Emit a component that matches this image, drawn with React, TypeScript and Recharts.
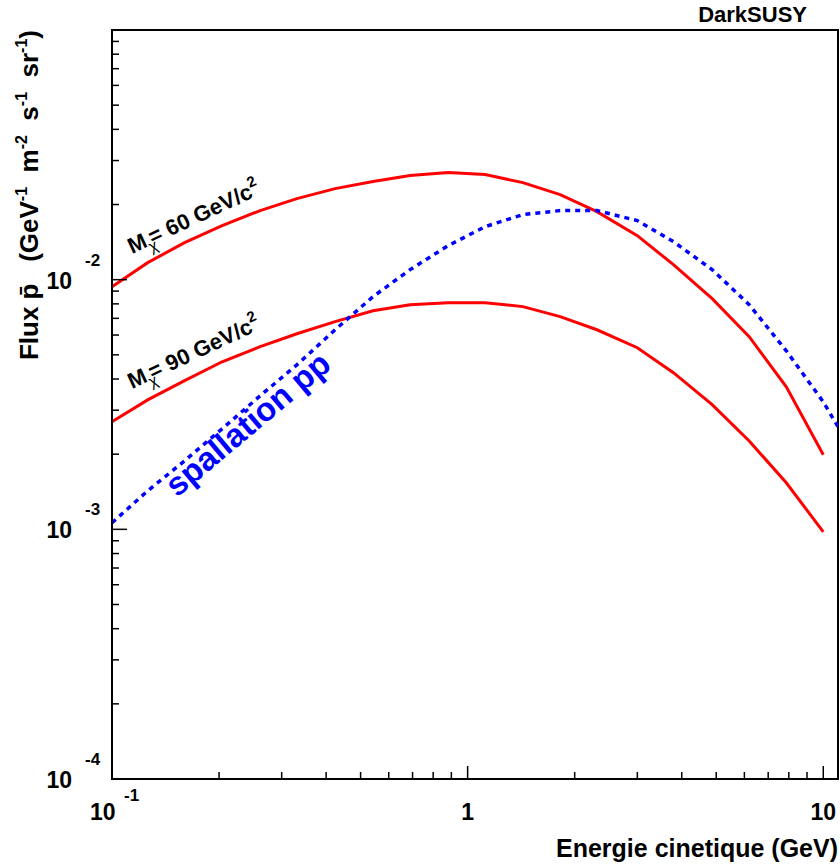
import React from 'react';
import { LineChart, Line, XAxis, YAxis, ReferenceArea } from 'recharts';

// kinetic energy grid (GeV)
const energies = [0.1, 0.126, 0.16, 0.204, 0.261, 0.331, 0.424, 0.542, 0.689, 0.882, 1.12, 1.43, 1.82, 2.31, 3.0, 3.79, 4.87, 6.19, 7.87, 10.0, 11.0];

// antiproton flux (GeV-1 m-2 s-1 sr-1)
const flux60 = [9.37e-3, 1.17e-2, 1.407e-2, 1.646e-2, 1.891e-2, 2.112e-2, 2.316e-2, 2.471e-2, 2.611e-2, 2.685e-2, 2.636e-2, 2.448e-2, 2.191e-2, 1.873e-2, 1.501e-2, 1.148e-2, 8.39e-3, 5.91e-3, 3.72e-3, 1.99e-3, null];
const flux90 = [2.7e-3, 3.3e-3, 3.94e-3, 4.69e-3, 5.39e-3, 6.07e-3, 6.79e-3, 7.51e-3, 7.94e-3, 8.09e-3, 8.09e-3, 7.8e-3, 7.11e-3, 6.3e-3, 5.34e-3, 4.24e-3, 3.16e-3, 2.26e-3, 1.536e-3, 9.77e-4, null];
const spallation = [1.062e-3, 1.426e-3, 1.881e-3, 2.527e-3, 3.427e-3, 4.56e-3, 6.3e-3, 8.55e-3, 1.097e-2, 1.369e-2, 1.631e-2, 1.822e-2, 1.891e-2, 1.891e-2, 1.724e-2, 1.42e-2, 1.097e-2, 7.94e-3, 5.19e-3, 3.24e-3, 2.575e-3];

const xTicks = [0.1, 0.2, 0.3, 0.4, 0.5, 0.6, 0.7, 0.8, 0.9, 1, 2, 3, 4, 5, 6, 7, 8, 9, 10];
const xMajor = [0.1, 1, 10];
const yTicks = [1e-4, 2e-4, 3e-4, 4e-4, 5e-4, 6e-4, 7e-4, 8e-4, 9e-4, 1e-3, 2e-3, 3e-3, 4e-3, 5e-3, 6e-3, 7e-3, 8e-3, 9e-3, 1e-2, 2e-2, 3e-2, 4e-2, 5e-2, 6e-2, 7e-2, 8e-2, 9e-2];
const yMajor = [1e-4, 1e-3, 1e-2];

const data = energies.map((e, i) => ({ e, m60: flux60[i], m90: flux90[i], spall: spallation[i] }));

const FONT = 'Liberation Sans, Arial, Helvetica, sans-serif';

const XTick = (props: any) => {
  const { x, y, payload } = props;
  const v = payload.value;
  const major = xMajor.includes(v);
  const exp = Math.round(Math.log10(v));
  return (
    <g>
      <line x1={x} x2={x} y1={y} y2={y - (major ? 13 : 7)} stroke="#000" strokeWidth={1.5} />
      {major && exp < 0 && (
        <g fontFamily={FONT} fontWeight="bold" fill="#000">
          <text x={x - 22} y={y + 41} fontSize={23}>10</text>
          <text x={x + 12} y={y + 22} fontSize={17}>{exp}</text>
        </g>
      )}
      {major && exp >= 0 && (
        <text x={x} y={y + 41} fontSize={23} fontFamily={FONT} fontWeight="bold" textAnchor="middle" fill="#000">
          {exp === 0 ? '1' : '10'}
        </text>
      )}
    </g>
  );
};

const YTick = (props: any) => {
  const { x, y, payload } = props;
  const v = payload.value;
  const major = yMajor.includes(v);
  const exp = Math.round(Math.log10(v));
  return (
    <g>
      <line x1={x} x2={x + (major ? 15 : 7)} y1={y} y2={y} stroke="#000" strokeWidth={1.5} />
      {major && (
        <g fontFamily={FONT} fontWeight="bold" fill="#000">
          <text x={x - 40} y={y + 9} fontSize={23} textAnchor="end">10</text>
          <text x={x - 27} y={y - 14} fontSize={17}>{exp}</text>
        </g>
      )}
    </g>
  );
};

export default function App() {
  return (
    <div style={{ position: 'absolute', left: 0, top: 0, width: 840, height: 867, background: '#fff' }}>
      <LineChart width={840} height={867} data={data} margin={{ top: 30, right: 2, bottom: 0, left: 0 }}>
        <XAxis
          dataKey="e"
          type="number"
          scale="log"
          domain={[0.1, 11]}
          ticks={xTicks}
          interval={0}
          tick={<XTick />}
          tickLine={false}
          tickSize={0}
          tickMargin={0}
          height={88}
          axisLine={{ stroke: '#000', strokeWidth: 2 }}
          allowDataOverflow
        />
        <YAxis
          type="number"
          scale="log"
          domain={[1e-4, 1e-1]}
          ticks={yTicks}
          interval={0}
          tick={<YTick />}
          tickLine={false}
          tickSize={0}
          tickMargin={0}
          width={112}
          axisLine={{ stroke: '#000', strokeWidth: 2 }}
          allowDataOverflow
        />
        <ReferenceArea x1={0.1} x2={11} y1={1e-4} y2={1e-1} fill="none" stroke="#000" strokeWidth={2} />
        <Line dataKey="m60" stroke="#ff0000" strokeWidth={3} dot={false} isAnimationActive={false} type="linear" />
        <Line dataKey="m90" stroke="#ff0000" strokeWidth={3} dot={false} isAnimationActive={false} type="linear" />
        <Line dataKey="spall" stroke="#0000ff" strokeWidth={3.5} strokeDasharray="5 5" dot={false} isAnimationActive={false} type="linear" />
      </LineChart>
      <svg width={840} height={867} style={{ position: 'absolute', left: 0, top: 0, pointerEvents: 'none' }} fontFamily={FONT} fontWeight="bold">
        <text x={807} y={22} fontSize={22} textAnchor="end" fill="#000">DarkSUSY</text>
        <text x={838} y={857} fontSize={25} textAnchor="end" fill="#000">Energie cinetique (GeV)</text>
        <text transform="translate(38,30) rotate(-90)" fontSize={26} textAnchor="end" fill="#000" xmlSpace="preserve">
          <tspan>{'Flux p\u0304\u00a0\u00a0\u00a0(GeV'}</tspan><tspan dy={-11} fontSize={16}>-1</tspan>
          <tspan dy={11}>{'\u00a0\u00a0m'}</tspan><tspan dy={-11} fontSize={16}>-2</tspan>
          <tspan dy={11}>{'\u00a0\u00a0s'}</tspan><tspan dy={-11} fontSize={16}>-1</tspan>
          <tspan dy={11}>{'\u00a0\u00a0sr'}</tspan><tspan dy={-11} fontSize={16}>-1</tspan>
          <tspan dy={11}>)</tspan>
        </text>
        <text transform="translate(132,254) rotate(-25)" fontSize={22} fill="#000">
          M<tspan dy={7} fontSize={16} fontWeight="normal">χ</tspan><tspan dy={-7} dx={-4}>= 60 GeV/c</tspan><tspan dy={-10} fontSize={15}>2</tspan>
        </text>
        <text transform="translate(132,389) rotate(-25)" fontSize={22} fill="#000">
          M<tspan dy={7} fontSize={16} fontWeight="normal">χ</tspan><tspan dy={-7} dx={-4}>= 90 GeV/c</tspan><tspan dy={-10} fontSize={15}>2</tspan>
        </text>
        <text transform="translate(177,498) rotate(-40)" fontSize={33} fill="#0000ff">spallation pp</text>
      </svg>
    </div>
  );
}
